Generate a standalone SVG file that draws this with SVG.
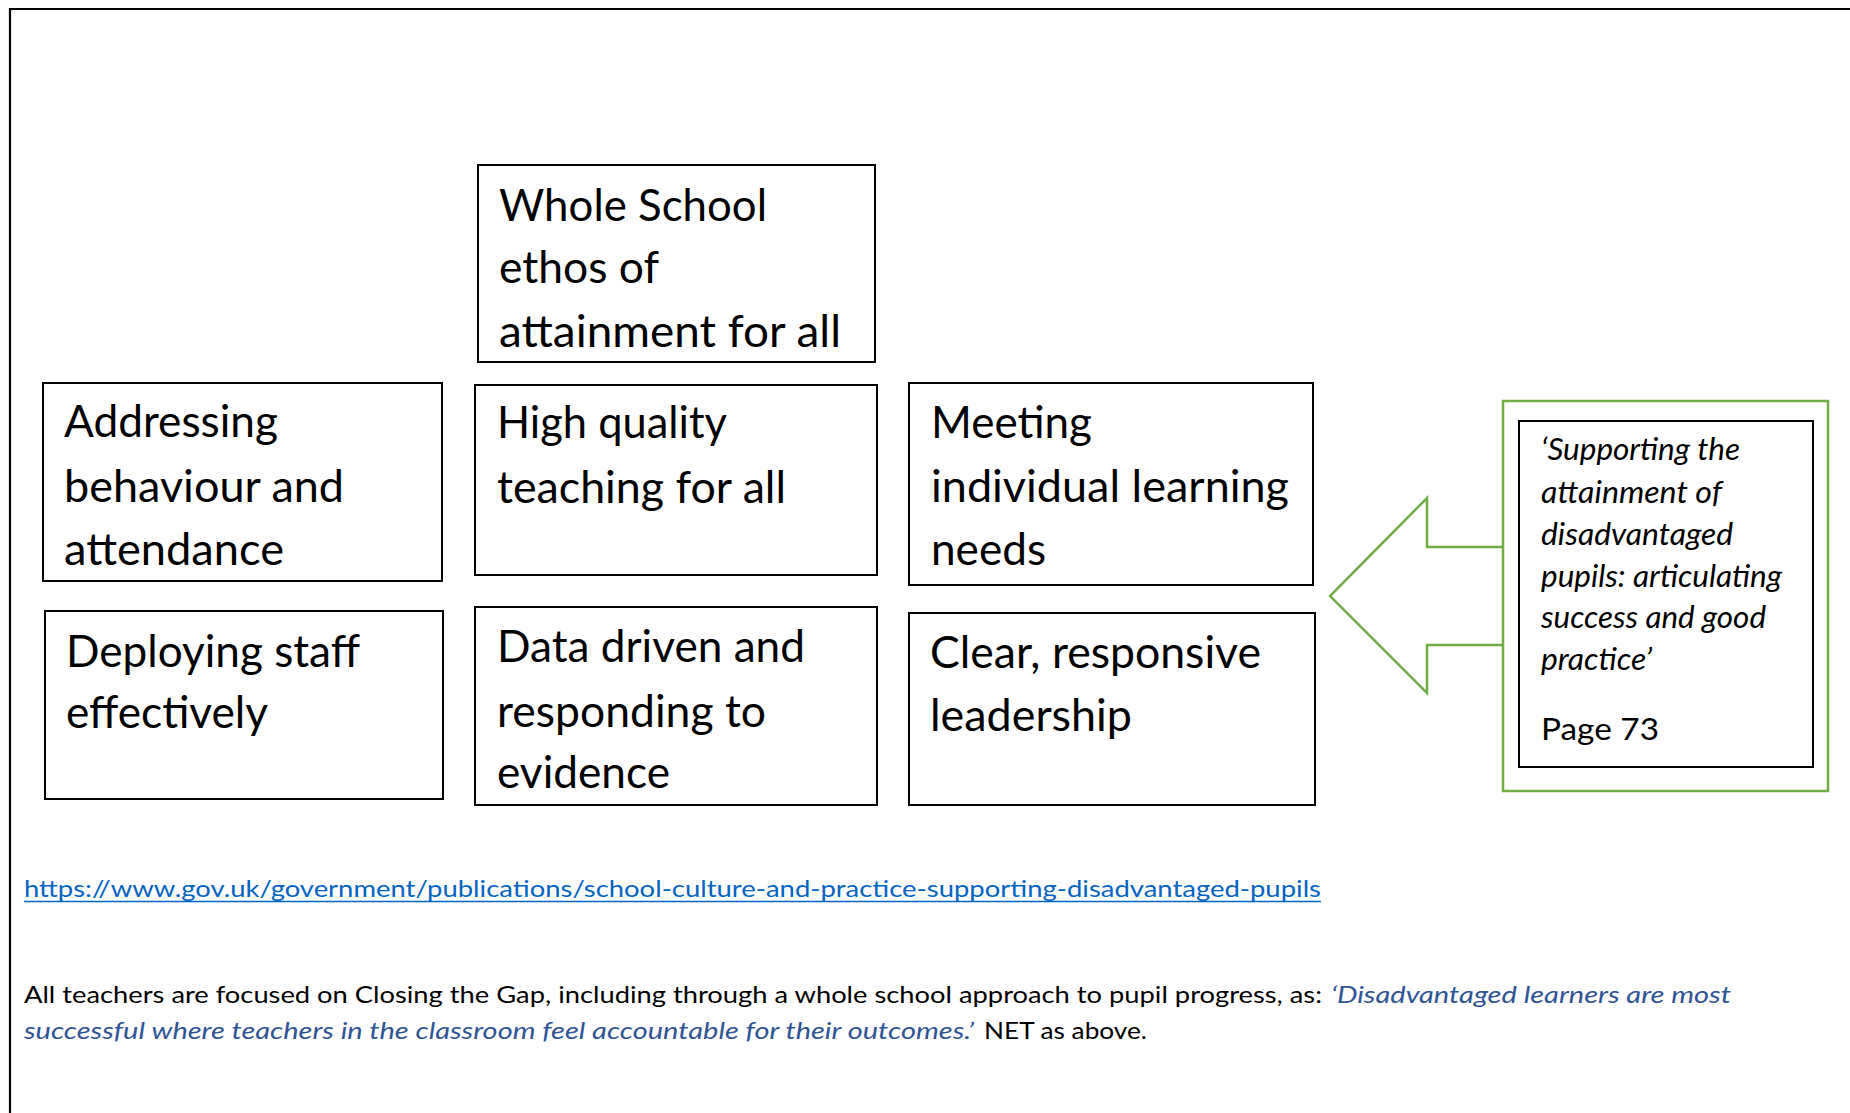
<svg xmlns="http://www.w3.org/2000/svg" width="1850" height="1113" viewBox="0 0 1850 1113">
  <style>
    .box { fill: #ffffff; stroke: #000000; stroke-width: 2; }
    .green { fill: none; stroke: #70AD47; stroke-width: 2.5; }
    .lbl { font-family: Lato, "Liberation Sans", sans-serif; font-size: 45px; fill: #000000; }
    .src { font-family: Lato, "Liberation Sans", sans-serif; font-size: 30px; fill: #000000; }
    .src-i { font-style: italic; }
    .body { font-family: Lato, "Liberation Sans", sans-serif; font-size: 23px; fill: #000000; }
    .quote { font-style: italic; fill: #2F5496; }
    .link { fill: #0563C1; }
  </style>

  <rect x="0" y="0" width="1850" height="1113" fill="#ffffff"/>

  <!-- page frame: top and left rules only -->
  <g id="frame" stroke="#000000" stroke-width="2.2" fill="none">
    <line x1="9" y1="9" x2="1850" y2="9"/>
    <line x1="10" y1="8" x2="10" y2="1113"/>
  </g>

  <!-- connectors: block arrow pointing from the source panel to the grid -->
  <g id="connectors">
    <polyline class="green" points="1503,547 1427,547 1427,498 1330,596 1427,693 1427,645 1503,645"/>
  </g>

  <g id="node-whole-school">
    <rect class="box" x="478" y="165" width="397" height="197"/>
    <text class="lbl" x="499" y="221" textLength="268" lengthAdjust="spacingAndGlyphs">Whole School</text>
    <text class="lbl" x="499" y="283" textLength="160" lengthAdjust="spacingAndGlyphs">ethos of</text>
    <text class="lbl" x="499" y="347" textLength="342" lengthAdjust="spacingAndGlyphs">attainment for all</text>
  </g>

  <g id="node-behaviour">
    <rect class="box" x="43" y="383" width="399" height="198"/>
    <text class="lbl" x="64" y="437" textLength="214" lengthAdjust="spacingAndGlyphs">Addressing</text>
    <text class="lbl" x="64" y="502" textLength="280" lengthAdjust="spacingAndGlyphs">behaviour and</text>
    <text class="lbl" x="64" y="565" textLength="220" lengthAdjust="spacingAndGlyphs">attendance</text>
  </g>

  <g id="node-teaching">
    <rect class="box" x="475" y="385" width="402" height="190"/>
    <text class="lbl" x="497" y="438" textLength="230" lengthAdjust="spacingAndGlyphs">High quality</text>
    <text class="lbl" x="497" y="503" textLength="289" lengthAdjust="spacingAndGlyphs">teaching for all</text>
  </g>

  <g id="node-learning-needs">
    <rect class="box" x="909" y="383" width="404" height="202"/>
    <text class="lbl" x="931" y="438" textLength="161" lengthAdjust="spacingAndGlyphs">Meeting</text>
    <text class="lbl" x="931" y="502" textLength="358" lengthAdjust="spacingAndGlyphs">individual learning</text>
    <text class="lbl" x="931" y="565" textLength="115" lengthAdjust="spacingAndGlyphs">needs</text>
  </g>

  <g id="node-staff">
    <rect class="box" x="45" y="611" width="398" height="188"/>
    <text class="lbl" x="66" y="667" textLength="294" lengthAdjust="spacingAndGlyphs">Deploying staff</text>
    <text class="lbl" x="66" y="728" textLength="202" lengthAdjust="spacingAndGlyphs">effectively</text>
  </g>

  <g id="node-data">
    <rect class="box" x="475" y="607" width="402" height="198"/>
    <text class="lbl" x="497" y="662" textLength="308" lengthAdjust="spacingAndGlyphs">Data driven and</text>
    <text class="lbl" x="497" y="727" textLength="269" lengthAdjust="spacingAndGlyphs">responding to</text>
    <text class="lbl" x="497" y="788" textLength="173" lengthAdjust="spacingAndGlyphs">evidence</text>
  </g>

  <g id="node-leadership">
    <rect class="box" x="909" y="613" width="406" height="192"/>
    <text class="lbl" x="930" y="668" textLength="331" lengthAdjust="spacingAndGlyphs">Clear, responsive</text>
    <text class="lbl" x="930" y="731" textLength="202" lengthAdjust="spacingAndGlyphs">leadership</text>
  </g>

  <g id="node-source">
    <rect class="green" x="1503" y="401" width="325" height="390" fill="#ffffff"/>
    <rect class="box" x="1519" y="421" width="294" height="346"/>
    <text class="src src-i" x="1541" y="460" textLength="199" lengthAdjust="spacingAndGlyphs">‘Supporting the</text>
    <text class="src src-i" x="1541" y="503" textLength="181" lengthAdjust="spacingAndGlyphs">attainment of</text>
    <text class="src src-i" x="1541" y="545" textLength="192" lengthAdjust="spacingAndGlyphs">disadvantaged</text>
    <text class="src src-i" x="1541" y="587" textLength="241" lengthAdjust="spacingAndGlyphs">pupils: articulating</text>
    <text class="src src-i" x="1541" y="628" textLength="225" lengthAdjust="spacingAndGlyphs">success and good</text>
    <text class="src src-i" x="1541" y="670" textLength="111" lengthAdjust="spacingAndGlyphs">practice’</text>
    <text class="src" x="1541" y="740" textLength="118" lengthAdjust="spacingAndGlyphs">Page 73</text>
  </g>

  <!-- reference link and note below the grid -->
  <g id="notes">
    <text class="body link" x="24" y="897" textLength="1297" lengthAdjust="spacingAndGlyphs">https://www.gov.uk/government/publications/school-culture-and-practice-supporting-disadvantaged-pupils</text>
    <line x1="24" y1="901.5" x2="1321" y2="901.5" stroke="#0563C1" stroke-width="1.5"/>

    <text class="body" x="24" y="1003" textLength="1298" lengthAdjust="spacingAndGlyphs">All teachers are focused on Closing the Gap, including through a whole school approach to pupil progress, as:</text>
    <text class="body quote" x="1331" y="1003" textLength="400" lengthAdjust="spacingAndGlyphs">‘Disadvantaged learners are most</text>
    <text class="body quote" x="24" y="1039" textLength="950" lengthAdjust="spacingAndGlyphs">successful where teachers in the classroom feel accountable for their outcomes.’</text>
    <text class="body" x="984" y="1039" textLength="163" lengthAdjust="spacingAndGlyphs">NET as above.</text>
  </g>
</svg>
